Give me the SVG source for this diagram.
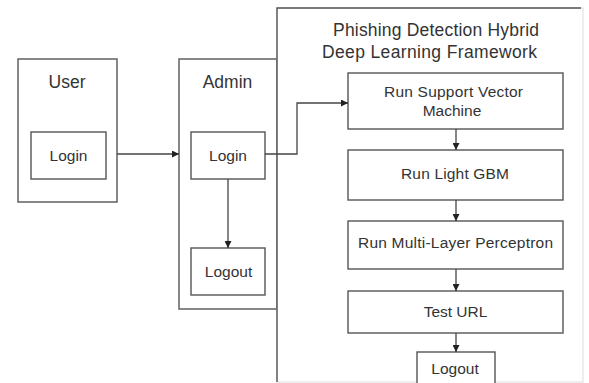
<svg xmlns="http://www.w3.org/2000/svg" width="589" height="383" viewBox="0 0 589 383">
<defs>
<style>
.box{fill:#fff;stroke:#555;stroke-width:1.4}
.t{font-family:"Liberation Sans",Arial,sans-serif;fill:#333;text-anchor:middle}
.s{font-size:15.5px}
.h{font-size:17.5px}
.c{fill:none;stroke:#444;stroke-width:1.3}
</style>
<marker id="a" viewBox="0 0 10 10" refX="10" refY="5" markerWidth="7" markerHeight="7" orient="auto" markerUnits="userSpaceOnUse">
<path d="M0,0 L10,5 L0,10 z" fill="#222"/>
</marker>
</defs>
<rect width="589" height="383" fill="#fff"/>
<g id="user">
<rect class="box" x="18" y="59" width="99" height="143"/>
<text class="t h" x="67" y="88">User</text>
</g>
<g id="user-login">
<rect class="box" x="31" y="132" width="75" height="47"/>
<text class="t s" x="68.5" y="161">Login</text>
</g>
<g id="admin">
<rect class="box" x="179" y="59" width="98" height="250"/>
<text class="t h" x="227.5" y="88">Admin</text>
</g>
<g id="admin-login">
<rect class="box" x="191" y="132" width="74" height="47"/>
<text class="t s" x="228" y="161">Login</text>
</g>
<g id="admin-logout">
<rect class="box" x="191" y="248" width="74" height="47"/>
<text class="t s" x="228.5" y="277">Logout</text>
</g>
<g id="framework">
<rect x="277" y="8" width="306" height="374" fill="#fff" stroke="#ddd" stroke-width="1"/>
<path d="M277,382 V8 H581" fill="none" stroke="#555" stroke-width="1.4"/>
<text class="t h" x="436" y="36" textLength="206">Phishing Detection Hybrid</text>
<text class="t h" x="429.5" y="58" textLength="215">Deep Learning Framework</text>
</g>
<g id="svm">
<rect class="box" x="348" y="73" width="215" height="56"/>
<text class="t s" x="453.5" y="97" textLength="139">Run Support Vector</text>
<text class="t s" x="452" y="116">Machine</text>
</g>
<g id="lgbm">
<rect class="box" x="348" y="150" width="215" height="50"/>
<text class="t s" x="455" y="179" textLength="108">Run Light GBM</text>
</g>
<g id="mlp">
<rect class="box" x="348" y="221" width="215" height="48"/>
<text class="t s" x="455.5" y="248" textLength="195">Run Multi-Layer Perceptron</text>
</g>
<g id="test-url">
<rect class="box" x="348" y="291" width="215" height="42"/>
<text class="t s" x="455.5" y="317">Test URL</text>
</g>
<g id="fw-logout">
<rect class="box" x="417" y="352" width="78" height="34"/>
<text class="t s" x="455" y="374">Logout</text>
</g>
<g id="connectors">
<path class="c" d="M117,154 H179" marker-end="url(#a)"/>
<path class="c" d="M228,179 V248" marker-end="url(#a)"/>
<path class="c" d="M265,154 H297 V103 H348" marker-end="url(#a)"/>
<path class="c" d="M456,129 V150" marker-end="url(#a)"/>
<path class="c" d="M456,200 V221" marker-end="url(#a)"/>
<path class="c" d="M456,269 V291" marker-end="url(#a)"/>
<path class="c" d="M456,333 V352" marker-end="url(#a)"/>
</g>
</svg>
